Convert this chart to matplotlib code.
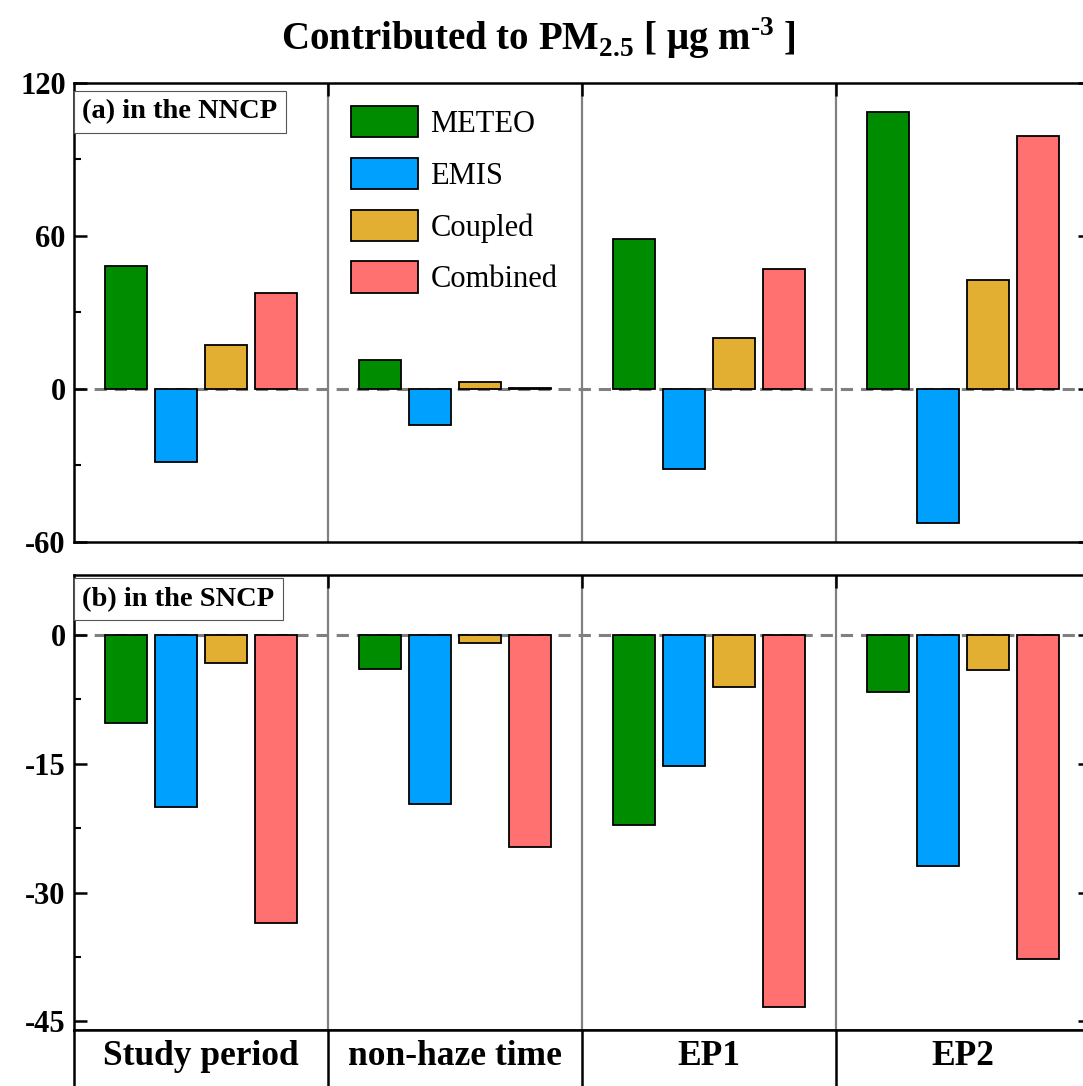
import numpy as np
import matplotlib
matplotlib.use("Agg")
import matplotlib.pyplot as plt
from matplotlib.patches import Patch
from matplotlib.ticker import MultipleLocator

plt.rcParams['font.family'] = ['Liberation Serif', 'DejaVu Serif']
plt.rcParams['mathtext.fontset'] = 'custom'
plt.rcParams['mathtext.rm'] = 'Liberation Serif:bold'
plt.rcParams['mathtext.bf'] = 'Liberation Serif:bold'
plt.rcParams['axes.unicode_minus'] = False

# data
periods = ["Study period", "non-haze time", "EP1", "EP2"]
series = ["METEO", "EMIS", "Coupled", "Combined"]
colors = ["#008C00", "#00A0FF", "#E3AF32", "#FF7070"]

nncp_meteo = [48.3, 11.4, 58.9, 108.6]
nncp_emis = [-28.5, -14.1, -31.5, -52.4]
nncp_coupled = [17.3, 2.9, 19.9, 42.7]
nncp_combined = [37.5, 0.4, 47.0, 99.1]

sncp_meteo = [-10.2, -4.0, -22.1, -6.6]
sncp_emis = [-20.0, -19.7, -15.2, -26.9]
sncp_coupled = [-3.3, -0.9, -6.1, -4.1]
sncp_combined = [-33.5, -24.7, -43.3, -37.7]

W, H = 1083, 1086
fig = plt.figure(figsize=(W / 100, H / 100), dpi=100)

left = 74 / W
width = 1016 / W
ax1 = fig.add_axes([left, 1 - 542 / H, width, 459 / H])
ax2 = fig.add_axes([left, 1 - 1030 / H, width, 455 / H])
ax3 = fig.add_axes([left, 1 - 1100 / H, width, 70 / H])

x = np.arange(len(periods)) + 0.5
offsets = [-0.295, -0.098, 0.098, 0.295]
bar_w = 0.165

panels = [
    (ax1, [nncp_meteo, nncp_emis, nncp_coupled, nncp_combined], (-60, 120), 60, 30, "(a) in the NNCP", 0.965),
    (ax2, [sncp_meteo, sncp_emis, sncp_coupled, sncp_combined], (-46, 7), 15, 7.5, "(b) in the SNCP", 0.974),
]

for ax, vals, ylim, major, minor, label, ty in panels:
    ax.axhline(0, color='#808080', linewidth=2.2, linestyle=(0, (4, 2.6)), zorder=1)
    for i in range(4):
        ax.bar(x + offsets[i], vals[i], width=bar_w, color=colors[i],
               edgecolor='black', linewidth=1.3, zorder=2)
    for s in [1, 2, 3]:
        ax.axvline(s, color='#808080', linewidth=1.6, zorder=0)
    ax.set_xlim(0, 4)
    ax.set_ylim(*ylim)
    ax.yaxis.set_major_locator(MultipleLocator(major))
    ax.yaxis.set_minor_locator(MultipleLocator(minor))
    ax.set_xticks([1, 2, 3])
    ax.set_xticklabels([])
    ax.tick_params(axis='x', which='both', direction='in', top=True, bottom=False,
                   length=9, width=1.8)
    ax.tick_params(axis='y', which='major', direction='in', left=True, right=True,
                   length=9, width=1.8, labelsize=22, pad=6)
    ax.tick_params(axis='y', which='minor', direction='in', left=True, right=True,
                   length=5, width=1.5)
    for t in ax.get_yticklabels():
        t.set_fontweight('bold')
    for sp in ax.spines.values():
        sp.set_linewidth(1.8)
    ax.text(0.008, ty, label, transform=ax.transAxes, ha='left', va='top',
            fontsize=20.5, fontweight='bold', zorder=5,
            bbox=dict(boxstyle='square,pad=0.3', facecolor='white',
                      edgecolor='#555555', linewidth=0.8))

handles = [Patch(facecolor=c, edgecolor='black', linewidth=1.3) for c in colors]
ax1.legend(handles, series, loc='upper left', bbox_to_anchor=(0.2726, 0.9505),
           frameon=False, fontsize=22, handlelength=2.2, handleheight=1.2,
           labelspacing=0.62, handletextpad=0.4, borderpad=0, borderaxespad=0)

# category strip under the panels
ax3.set_xlim(0, 4)
ax3.set_ylim(0, 1)
ax3.set_xticks([])
ax3.set_yticks([])
for s in [1, 2, 3]:
    ax3.axvline(s, color='black', linewidth=1.8)
for sp in ax3.spines.values():
    sp.set_linewidth(1.8)
for xi, name in zip(x, periods):
    ax3.text(xi, 0.5, name, ha='center', va='baseline', fontsize=25.5, fontweight='bold')

fig.text(0.497, 1 - 50 / H, r'Contributed to PM$_{\mathregular{2.5}}$ [ μg m$^{\mathregular{\text{-}3}}$ ]',
         ha='center', va='baseline', fontsize=28, fontweight='bold')

fig.savefig("out.png", dpi=100)
